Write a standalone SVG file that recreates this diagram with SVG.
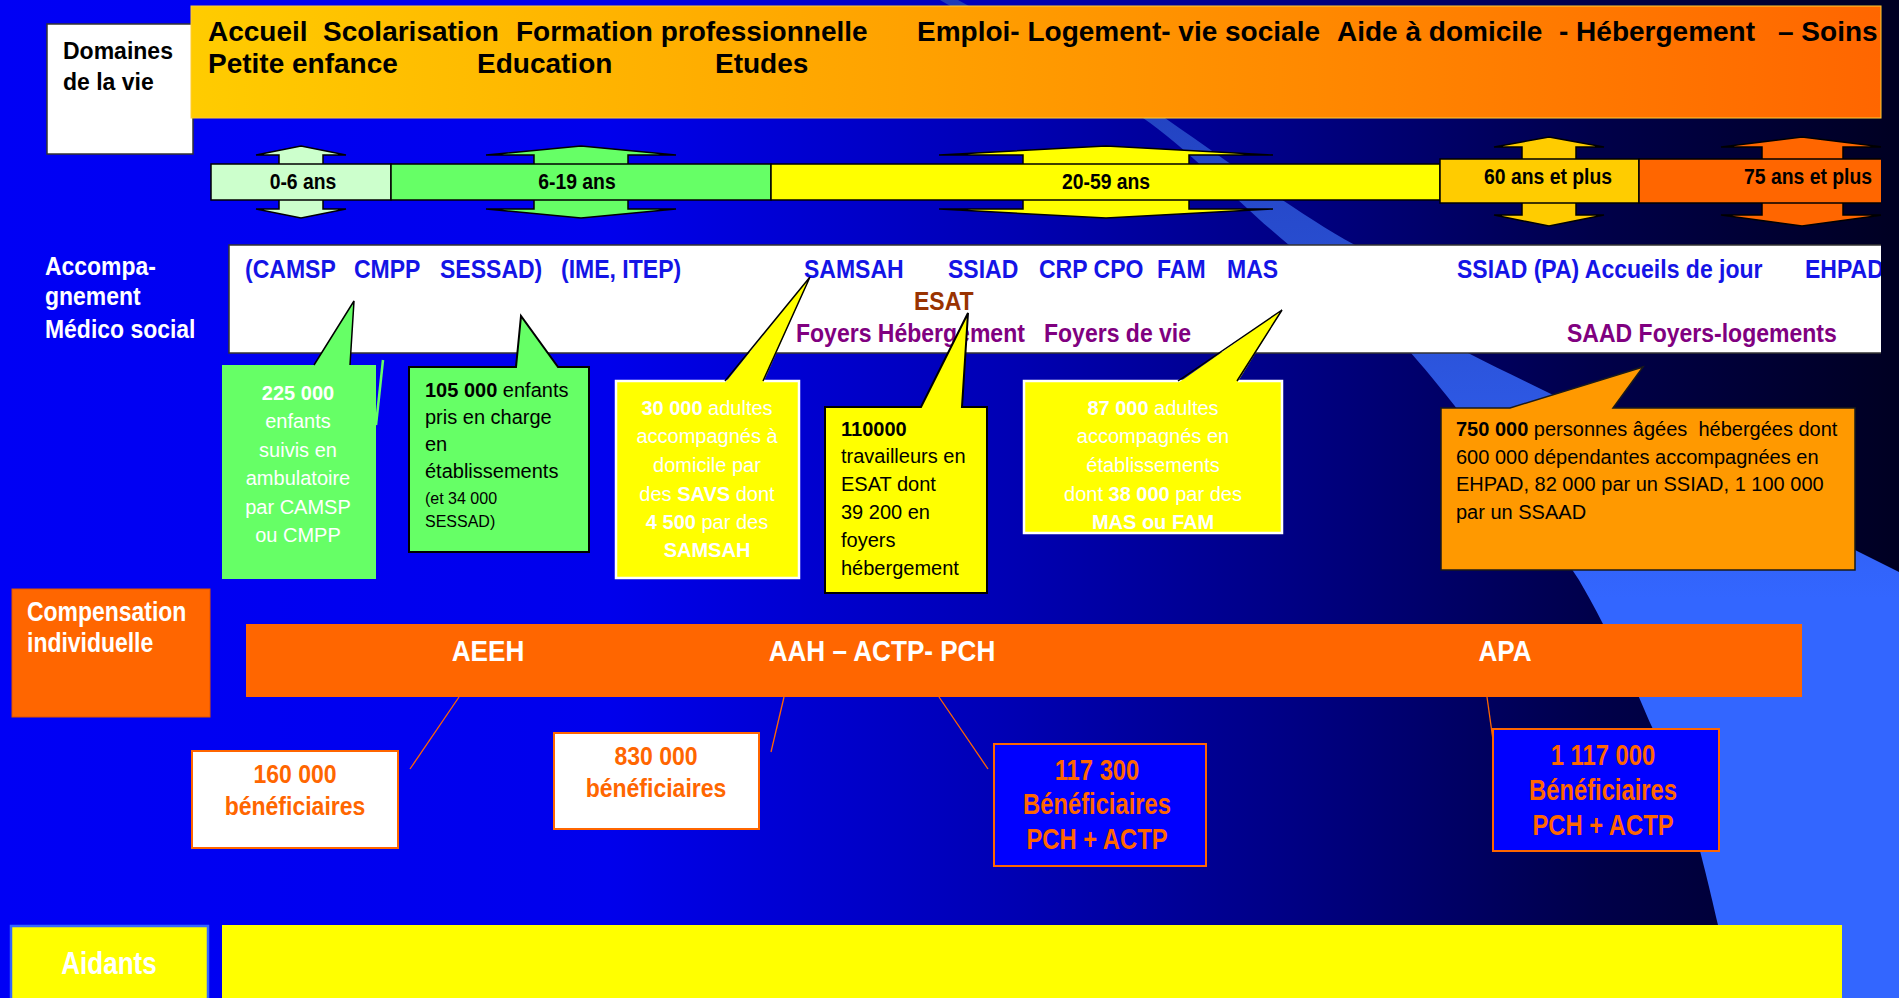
<svg xmlns="http://www.w3.org/2000/svg" width="1899" height="998" viewBox="0 0 1899 998">
<defs>
<linearGradient id="bg" x1="0" y1="0" x2="1899" y2="0" gradientUnits="userSpaceOnUse">
<stop offset="0" stop-color="#0000F5"/>
<stop offset="0.32" stop-color="#0000EC"/>
<stop offset="0.53" stop-color="#0000B4"/>
<stop offset="0.68" stop-color="#000084"/>
<stop offset="0.84" stop-color="#00004A"/>
<stop offset="1" stop-color="#000022"/>
</linearGradient>
<linearGradient id="swoosh" x1="0" y1="0" x2="0" y2="998" gradientUnits="userSpaceOnUse">
<stop offset="0" stop-color="#1E3CB8"/>
<stop offset="0.3" stop-color="#2A50D4"/>
<stop offset="0.6" stop-color="#3366FF"/>
<stop offset="1" stop-color="#3366FF"/>
</linearGradient>
<linearGradient id="banner" x1="191" y1="0" x2="1881" y2="0" gradientUnits="userSpaceOnUse">
<stop offset="0" stop-color="#FFCC00"/>
<stop offset="0.5" stop-color="#FF9A00"/>
<stop offset="1" stop-color="#FF6600"/>
</linearGradient>
<clipPath id="slide"><rect x="0" y="0" width="1881" height="998"/></clipPath>
<style>
text{font-family:"Liberation Sans",Arial,Helvetica,sans-serif}
.b{font-weight:bold}
.ban{font-size:28px;font-weight:bold;fill:#000}
.lbl{font-size:25.5px;font-weight:bold;fill:#fff}
.lbl2{font-size:28px;font-weight:bold;fill:#fff}
.age{font-size:21.5px;font-weight:bold;fill:#000;text-anchor:middle}
.ms{font-size:26px;font-weight:bold}
.blue{fill:#1414E6}
.purp{fill:#800080}
.brown{fill:#993300}
.ct{font-size:20px}
.mid{text-anchor:middle}
.wh{fill:#fff}
.bk{fill:#000}
.band{stroke:#000;stroke-width:1.5}
.ptr{fill:none;stroke:#000;stroke-width:1.5}
.comp{font-size:30px;font-weight:bold;fill:#fff;text-anchor:middle}
.aid{font-size:31px;font-weight:bold;fill:#fff;text-anchor:middle}
.num{font-size:26px;font-weight:bold;fill:#FF6600;text-anchor:middle}
.num2{font-size:29px;font-weight:bold;fill:#FF6600;text-anchor:middle}
.conn{stroke:#FF6600;stroke-width:1.3;fill:none}
</style>
</defs>

<g id="background">
<rect x="0" y="0" width="1899" height="998" fill="url(#bg)"/>
<path d="M940,0 L958,0 C1040,45 1110,85 1165,118 C1240,170 1300,215 1355,245 C1400,290 1440,330 1468,353 C1600,420 1760,490 1857,551 L1899,572 L1899,998 L1738,998 C1730,960 1722,935 1718,925 C1710,890 1705,870 1700,851 C1680,790 1665,755 1652,727 C1640,700 1620,650 1603,624 C1595,608 1586,592 1579,580 C1540,520 1470,420 1411,353 C1370,310 1330,275 1289,245 C1240,205 1190,150 1143,118 C1080,80 1000,35 940,0 Z" fill="url(#swoosh)"/>
</g>

<g id="domaines">
<rect x="47" y="24" width="146" height="130" fill="#fff" stroke="#333" stroke-width="1.5"/>
<text class="b" font-size="23" x="63" y="59">Domaines</text>
<text class="b" font-size="23" x="63" y="90">de la vie</text>
</g>

<g id="banner">
<rect x="191" y="6" width="1690" height="112" fill="url(#banner)" stroke="#FFCC33" stroke-width="1"/>
<text class="ban" x="208" y="41">Accueil</text>
<text class="ban" x="323" y="41">Scolarisation</text>
<text class="ban" x="516" y="41">Formation professionnelle</text>
<text class="ban" x="917" y="41">Emploi- Logement- vie sociale</text>
<text class="ban" x="1337" y="41">Aide à domicile</text>
<text class="ban" x="1559" y="41">- Hébergement</text>
<text class="ban" x="1778" y="41">– Soins</text>
<text class="ban" x="208" y="73">Petite enfance</text>
<text class="ban" x="477" y="73">Education</text>
<text class="ban" x="715" y="73">Etudes</text>
</g>

<g id="age-0-6">
<path class="band" fill="#CCFFCC" d="M301,146 L346,155 L323,155 L323,209 L346,209 L301,218 L256,209 L279,209 L279,155 L256,155 Z"/>
<rect class="band" fill="#CCFFCC" x="211" y="164" width="180" height="36"/>
<text class="age" transform="translate(303 189) scale(0.9 1)">0-6 ans</text>
</g>
<g id="age-6-19">
<path class="band" fill="#66FF66" d="M581,146 L676,155 L628,155 L628,209 L676,209 L581,218 L486,209 L534,209 L534,155 L486,155 Z"/>
<rect class="band" fill="#66FF66" x="391" y="164" width="380" height="36"/>
<text class="age" transform="translate(577 189) scale(0.9 1)">6-19 ans</text>
</g>
<g id="age-20-59">
<path class="band" fill="#FFFF00" d="M1106,146 L1273,155 L1189,155 L1189,209 L1273,209 L1106,218 L939,209 L1023,209 L1023,155 L939,155 Z"/>
<rect class="band" fill="#FFFF00" x="771" y="164" width="669" height="36"/>
<text class="age" transform="translate(1106 189) scale(0.9 1)">20-59 ans</text>
</g>
<g id="age-60">
<path class="band" fill="#FFCC00" d="M1549,137 L1604,147 L1576,147 L1576,215 L1604,215 L1549,226 L1494,215 L1522,215 L1522,147 L1494,147 Z"/>
<rect class="band" fill="#FFCC00" x="1440" y="159" width="199" height="44"/>
<text class="age" transform="translate(1548 184) scale(0.9 1)">60 ans et plus</text>
</g>
<g id="age-75" clip-path="url(#slide)">
<path class="band" fill="#FF6600" d="M1802,137 L1883,147 L1843,147 L1843,215 L1883,215 L1802,226 L1721,215 L1762,215 L1762,147 L1721,147 Z"/>
<rect class="band" fill="#FF6600" x="1639" y="159" width="250" height="44"/>
<text class="age" transform="translate(1808 184) scale(0.9 1)">75 ans et plus</text>
</g>

<g id="label-accompagnement">
<text class="lbl" transform="translate(45 275) scale(0.9 1)">Accompa-</text>
<text class="lbl" transform="translate(45 305) scale(0.9 1)">gnement</text>
<text class="lbl" transform="translate(45 338) scale(0.9 1)">Médico social</text>
</g>

<g id="medico-social" clip-path="url(#slide)">
<rect x="229" y="245" width="1660" height="108" fill="#fff" stroke="#333" stroke-width="1.5"/>
<text class="ms blue" transform="translate(245 278) scale(0.885 1)">(CAMSP</text>
<text class="ms blue" transform="translate(354 278) scale(0.885 1)">CMPP</text>
<text class="ms blue" transform="translate(440 278) scale(0.885 1)">SESSAD)</text>
<text class="ms blue" transform="translate(561 278) scale(0.885 1)">(IME, ITEP)</text>
<text class="ms blue" transform="translate(804 278) scale(0.885 1)">SAMSAH</text>
<text class="ms blue" transform="translate(948 278) scale(0.885 1)">SSIAD</text>
<text class="ms blue" transform="translate(1039 278) scale(0.885 1)">CRP CPO</text>
<text class="ms blue" transform="translate(1157 278) scale(0.885 1)">FAM</text>
<text class="ms blue" transform="translate(1227 278) scale(0.885 1)">MAS</text>
<text class="ms blue" transform="translate(1457 278) scale(0.885 1)">SSIAD (PA) Accueils de jour</text>
<text class="ms blue" transform="translate(1805 278) scale(0.885 1)">EHPAD</text>
<text class="ms brown" transform="translate(914 310) scale(0.885 1)">ESAT</text>
<text class="ms purp" transform="translate(796 342) scale(0.885 1)">Foyers Hébergement</text>
<text class="ms purp" transform="translate(1044 342) scale(0.885 1)">Foyers de vie</text>
<text class="ms purp" transform="translate(1567 342) scale(0.885 1)">SAAD Foyers-logements</text>
</g>

<g id="callout-225000">
<path d="M222,365 L314,365 L354,301 L350,365 L376,365 L376,579 L222,579 Z" fill="#66FF66"/>
<polyline class="ptr" points="314,365 354,301 350,365"/>
<line x1="383" y1="360" x2="376" y2="425" stroke="#66FF66" stroke-width="2.5"/>
<text class="ct mid wh" x="298" y="400"><tspan class="b">225 000</tspan></text>
<text class="ct mid wh" x="298" y="428">enfants</text>
<text class="ct mid wh" x="298" y="457">suivis en</text>
<text class="ct mid wh" x="298" y="485">ambulatoire</text>
<text class="ct mid wh" x="298" y="514">par CAMSP</text>
<text class="ct mid wh" x="298" y="542">ou CMPP</text>
</g>

<g id="callout-105000">
<path d="M409,367 L516,367 L521,316 L558,367 L589,367 L589,552 L409,552 Z" fill="#66FF66" stroke="#000" stroke-width="2"/>
<text class="ct bk" x="425" y="397"><tspan class="b">105 000</tspan> enfants</text>
<text class="ct bk" x="425" y="424">pris en charge</text>
<text class="ct bk" x="425" y="451">en</text>
<text class="ct bk" x="425" y="478">établissements</text>
<text class="bk" font-size="16" x="425" y="504">(et 34 000</text>
<text class="bk" font-size="16" x="425" y="527">SESSAD)</text>
</g>

<g id="callout-30000">
<rect x="616" y="381" width="183" height="197" fill="#FFFF00" stroke="#fff" stroke-width="2.5"/>
<polygon points="725,383 810,277 763,383" fill="#FFFF00"/>
<polyline class="ptr" points="725,381 810,277 763,381"/>
<text class="ct mid wh" x="707" y="415"><tspan class="b">30 000</tspan> adultes</text>
<text class="ct mid wh" x="707" y="443">accompagnés à</text>
<text class="ct mid wh" x="707" y="472">domicile par</text>
<text class="ct mid wh" x="707" y="501">des <tspan class="b">SAVS</tspan> dont</text>
<text class="ct mid wh" x="707" y="529"><tspan class="b">4 500</tspan> par des</text>
<text class="ct mid wh b" x="707" y="557">SAMSAH</text>
</g>

<g id="callout-110000">
<path d="M825,407 L921,407 L968,313 L962,407 L987,407 L987,593 L825,593 Z" fill="#FFFF00" stroke="#000" stroke-width="2"/>
<text class="ct bk b" x="841" y="436">110000</text>
<text class="ct bk" x="841" y="463">travailleurs en</text>
<text class="ct bk" x="841" y="491">ESAT dont</text>
<text class="ct bk" x="841" y="519">39 200 en</text>
<text class="ct bk" x="841" y="547">foyers</text>
<text class="ct bk" x="841" y="575">hébergement</text>
</g>

<g id="callout-87000">
<rect x="1024" y="381" width="258" height="152" fill="#FFFF00" stroke="#fff" stroke-width="2.5"/>
<polygon points="1178,383 1282,310 1237,383" fill="#FFFF00"/>
<polyline class="ptr" points="1178,381 1282,310 1237,381"/>
<text class="ct mid wh" x="1153" y="415"><tspan class="b">87 000</tspan> adultes</text>
<text class="ct mid wh" x="1153" y="443">accompagnés en</text>
<text class="ct mid wh" x="1153" y="472">établissements</text>
<text class="ct mid wh" x="1153" y="501">dont <tspan class="b">38 000</tspan> par des</text>
<text class="ct mid wh b" x="1153" y="529">MAS ou FAM</text>
</g>

<g id="callout-750000">
<path d="M1441,408 L1510,408 L1643,367 L1613,408 L1855,408 L1855,570 L1441,570 Z" fill="#FF9900" stroke="#1a1a1a" stroke-width="1.5"/>
<text class="ct bk" x="1456" y="436" xml:space="preserve"><tspan class="b">750 000</tspan> personnes âgées  hébergées dont</text>
<text class="ct bk" x="1456" y="464">600 000 dépendantes accompagnées en</text>
<text class="ct bk" x="1456" y="491">EHPAD, 82 000 par un SSIAD, 1 100 000</text>
<text class="ct bk" x="1456" y="519">par un SSAAD</text>
</g>

<g id="label-compensation">
<rect x="12" y="589" width="198" height="128" fill="#FF6600" stroke="#E05500" stroke-width="1"/>
<text class="lbl2" transform="translate(27 621) scale(0.82 1)">Compensation</text>
<text class="lbl2" transform="translate(27 652) scale(0.82 1)">individuelle</text>
</g>

<g id="compensation-band">
<rect x="246" y="624" width="1556" height="73" fill="#FF6600"/>
<text class="comp" transform="translate(488 661) scale(0.87 1)">AEEH</text>
<text class="comp" transform="translate(882 661) scale(0.87 1)">AAH – ACTP- PCH</text>
<text class="comp" transform="translate(1505 661) scale(0.87 1)">APA</text>
</g>

<g id="connectors">
<line class="conn" x1="459" y1="697" x2="410" y2="769"/>
<line class="conn" x1="784" y1="697" x2="771" y2="752"/>
<line class="conn" x1="939" y1="697" x2="988" y2="769"/>
<line class="conn" x1="1487" y1="697" x2="1493" y2="740"/>
</g>

<g id="box-160000">
<rect x="192" y="751" width="206" height="97" fill="#fff" stroke="#FF6600" stroke-width="2"/>
<text class="num" transform="translate(295 783) scale(0.885 1)">160 000</text>
<text class="num" transform="translate(295 815) scale(0.885 1)">bénéficiaires</text>
</g>
<g id="box-830000">
<rect x="554" y="733" width="205" height="96" fill="#fff" stroke="#FF6600" stroke-width="2"/>
<text class="num" transform="translate(656 765) scale(0.885 1)">830 000</text>
<text class="num" transform="translate(656 797) scale(0.885 1)">bénéficiaires</text>
</g>
<g id="box-117300">
<rect x="994" y="744" width="212" height="122" fill="#0000FF" stroke="#FF6600" stroke-width="2"/>
<text class="num2" transform="translate(1097 780) scale(0.82 1)">117 300</text>
<text class="num2" transform="translate(1097 814) scale(0.82 1)">Bénéficiaires</text>
<text class="num2" transform="translate(1097 849) scale(0.82 1)">PCH + ACTP</text>
</g>
<g id="box-1117000">
<rect x="1493" y="729" width="226" height="122" fill="#0000FF" stroke="#FF6600" stroke-width="2"/>
<text class="num2" transform="translate(1603 765) scale(0.82 1)">1 117 000</text>
<text class="num2" transform="translate(1603 800) scale(0.82 1)">Bénéficiaires</text>
<text class="num2" transform="translate(1603 835) scale(0.82 1)">PCH + ACTP</text>
</g>

<g id="label-aidants">
<rect x="11" y="926" width="197" height="80" fill="#FFFF00" stroke="#3366FF" stroke-width="2.5"/>
<text class="aid" transform="translate(109 974) scale(0.84 1)">Aidants</text>
</g>
<g id="aidants-band">
<rect x="222" y="925" width="1620" height="80" fill="#FFFF00"/>
</g>
</svg>
